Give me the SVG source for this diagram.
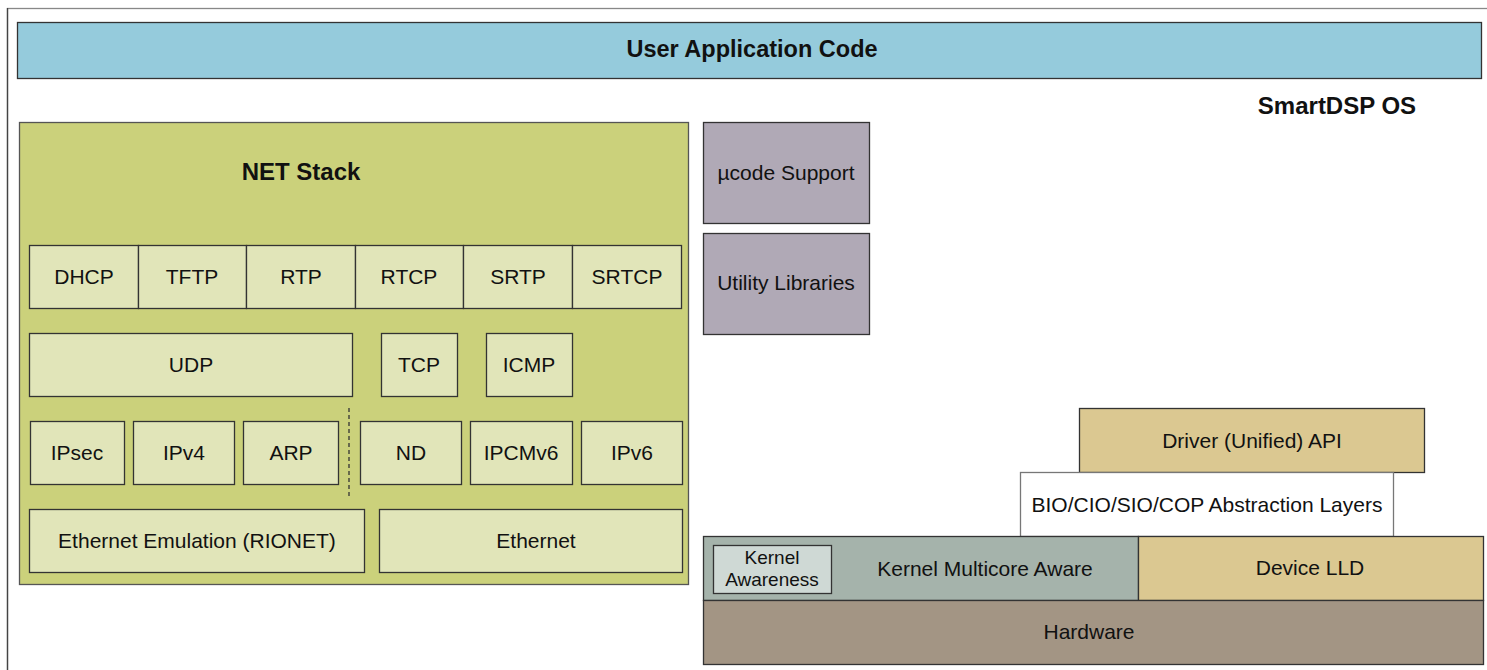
<svg xmlns="http://www.w3.org/2000/svg" width="1487" height="670" viewBox="0 0 1487 670">
<style>
text{font-family:"Liberation Sans",Arial,sans-serif;fill:#111;text-anchor:middle;dominant-baseline:central;font-size:21px}
.b{font-weight:bold;font-size:23.5px}
.s{stroke:#333;stroke-width:1.3}
.cell{fill:#e1e5b9}
.net{fill:#cbd17b;stroke:#555;stroke-width:1.3}
.purp{fill:#b0a9b6}
.tan{fill:#dbc891}
.ka{font-size:19px}
</style>
<rect x="7.5" y="8.5" width="1490" height="680" fill="#fff" stroke="#888" stroke-width="1.3"/>
<line x1="7.5" y1="8" x2="7.5" y2="670" stroke="#444" stroke-width="1.3"/>
<g id="user-app"><rect class="s" x="17.5" y="22.5" width="1464" height="56" fill="#95cbdc"/><text class="b" x="752" y="49">User Application Code</text></g>
<g id="smartdsp"><text class="b" x="1337" y="105" style="font-size:24px">SmartDSP OS</text></g>
<g id="net-stack"><rect class="net" x="19.5" y="122.5" width="669" height="462"/><text class="b" x="301" y="171" style="font-size:24px">NET Stack</text></g>
<g id="dhcp"><rect class="s cell" x="29.5" y="245.5" width="109" height="63"/><text x="84" y="276">DHCP</text></g>
<g id="tftp"><rect class="s cell" x="138.5" y="245.5" width="108" height="63"/><text x="192" y="276">TFTP</text></g>
<g id="rtp"><rect class="s cell" x="246.5" y="245.5" width="109" height="63"/><text x="301" y="276">RTP</text></g>
<g id="rtcp"><rect class="s cell" x="355.5" y="245.5" width="108" height="63"/><text x="409" y="276">RTCP</text></g>
<g id="srtp"><rect class="s cell" x="463.5" y="245.5" width="109" height="63"/><text x="518" y="276">SRTP</text></g>
<g id="srtcp"><rect class="s cell" x="572.5" y="245.5" width="109" height="63"/><text x="627" y="276">SRTCP</text></g>
<g id="udp"><rect class="s cell" x="29.5" y="333.5" width="323" height="63"/><text x="191" y="364">UDP</text></g>
<g id="tcp"><rect class="s cell" x="381.5" y="333.5" width="76" height="63"/><text x="419" y="364">TCP</text></g>
<g id="icmp"><rect class="s cell" x="486.5" y="333.5" width="86" height="63"/><text x="529" y="364">ICMP</text></g>
<g id="ipsec"><rect class="s cell" x="30.5" y="421.5" width="94" height="63"/><text x="77" y="452">IPsec</text></g>
<g id="ipv4"><rect class="s cell" x="133.5" y="421.5" width="101" height="63"/><text x="184" y="452">IPv4</text></g>
<g id="arp"><rect class="s cell" x="243.5" y="421.5" width="95" height="63"/><text x="291" y="452">ARP</text></g>
<g id="nd"><rect class="s cell" x="360.5" y="421.5" width="101" height="63"/><text x="411" y="452">ND</text></g>
<g id="ipcmv6"><rect class="s cell" x="470.5" y="421.5" width="102" height="63"/><text x="521" y="452">IPCMv6</text></g>
<g id="ipv6"><rect class="s cell" x="581.5" y="421.5" width="101" height="63"/><text x="632" y="452">IPv6</text></g>
<g id="eth-emu"><rect class="s cell" x="29.5" y="509.5" width="335" height="63"/><text x="197" y="540">Ethernet Emulation (RIONET)</text></g>
<g id="ethernet"><rect class="s cell" x="379.5" y="509.5" width="303" height="63"/><text x="536" y="540">Ethernet</text></g>
<g id="connectors"><line x1="349" y1="408" x2="349" y2="497" stroke="#333" stroke-width="1.3" stroke-dasharray="4,3"/></g>
<g id="ucode"><rect class="s purp" x="703.5" y="122.5" width="166" height="101"/><text x="786" y="172">µcode Support</text></g>
<g id="utility"><rect class="s purp" x="703.5" y="233.5" width="166" height="101"/><text x="786" y="282">Utility Libraries</text></g>
<g id="driver-api"><rect class="s tan" x="1079.5" y="408.5" width="345" height="64"/><text x="1252" y="440">Driver (Unified) API</text></g>
<g id="bio"><rect x="1020.5" y="472.5" width="373" height="64" fill="#fff" stroke="#777" stroke-width="1.3"/><text x="1207" y="504">BIO/CIO/SIO/COP Abstraction Layers</text></g>
<g id="kernel-mc"><rect class="s" x="703.5" y="536.5" width="435" height="64" fill="#a5b3ab"/><text x="985" y="568">Kernel Multicore Aware</text></g>
<g id="kernel-aw"><rect class="s" x="713.5" y="545.5" width="118" height="48" fill="#cfd9d5"/><text class="ka" x="772" y="557">Kernel</text><text class="ka" x="772" y="579">Awareness</text></g>
<g id="device-lld"><rect class="s tan" x="1138.5" y="536.5" width="345" height="64"/><text x="1310" y="567">Device LLD</text></g>
<g id="hardware"><rect class="s" x="703.5" y="600.5" width="780" height="64" fill="#a39584"/><text x="1089" y="631">Hardware</text></g>
</svg>
